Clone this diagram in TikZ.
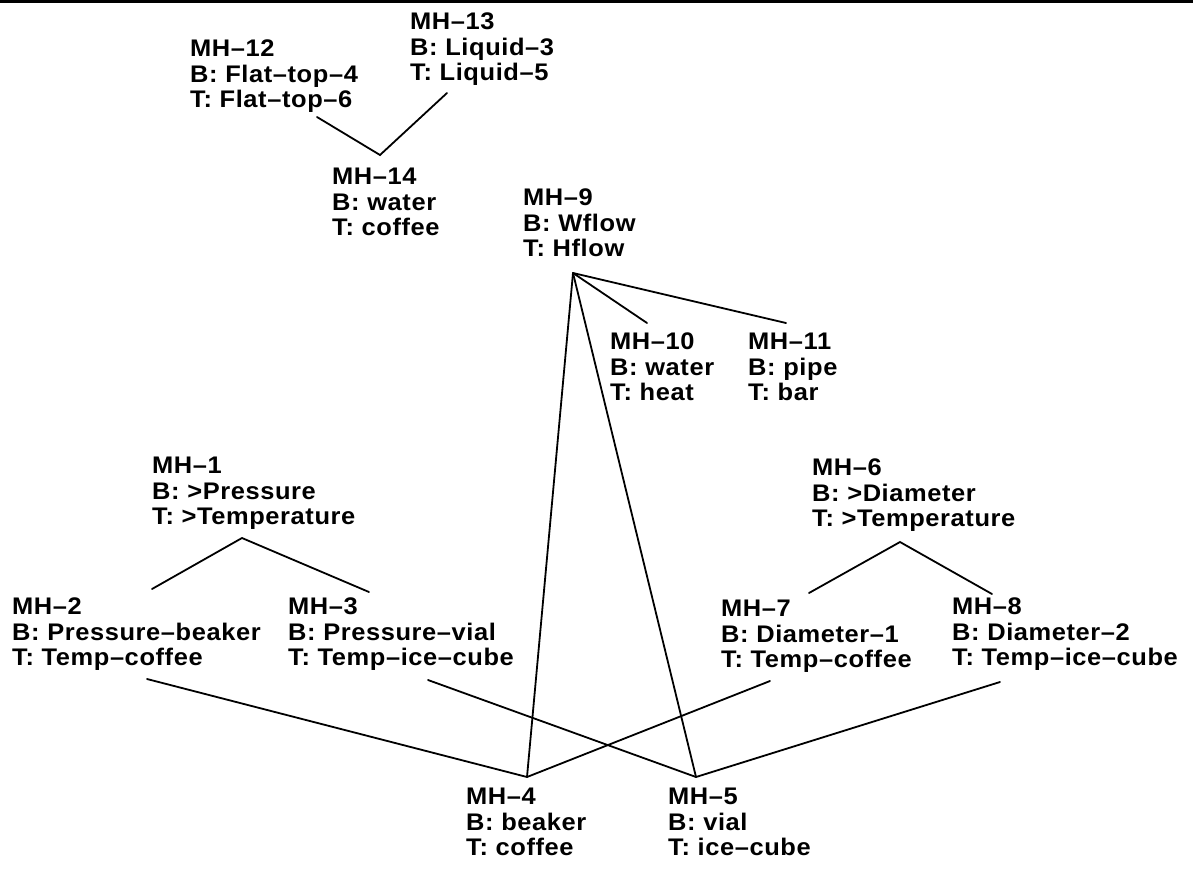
\documentclass[tikz,border=0pt]{standalone}
\usepackage{fontspec}
\newfontfamily\mhfont{Liberation Sans}[FakeStretch=1.06, LetterSpace=2.5]
\begin{document}
\begin{tikzpicture}[x=1pt,y=-1pt,
  mh/.style={anchor=north west, inner sep=0pt, align=left,
    font=\mhfont\bfseries\fontsize{24}{25.5}\selectfont},
  link/.style={line width=1.8pt, line cap=round}]
\fill[white] (0,0) rectangle (1193,868);
\useasboundingbox (0,0) rectangle (1193,868);
\draw[line width=3pt] (0,1.5) -- (1193,1.5);

\node[mh] (mh12) at (190,40)  {MH–12\\B: Flat–top–4\\T: Flat–top–6};
\node[mh] (mh13) at (410,13)  {MH–13\\B: Liquid–3\\T: Liquid–5};
\node[mh] (mh14) at (332,168) {MH–14\\B: water\\T: coffee};
\node[mh] (mh9)  at (523,189) {MH–9\\B: Wflow\\T: Hflow};
\node[mh] (mh10) at (610,333) {MH–10\\B: water\\T: heat};
\node[mh] (mh11) at (748,333) {MH–11\\B: pipe\\T: bar};
\node[mh] (mh1)  at (152,457) {MH–1\\B: >Pressure\\T: >Temperature};
\node[mh] (mh6)  at (812,459) {MH–6\\B: >Diameter\\T: >Temperature};
\node[mh] (mh2)  at (12,598)  {MH–2\\B: Pressure–beaker\\T: Temp–coffee};
\node[mh] (mh3)  at (288,598) {MH–3\\B: Pressure–vial\\T: Temp–ice–cube};
\node[mh] (mh7)  at (721,600) {MH–7\\B: Diameter–1\\T: Temp–coffee};
\node[mh] (mh8)  at (952,598) {MH–8\\B: Diameter–2\\T: Temp–ice–cube};
\node[mh] (mh4)  at (466,788) {MH–4\\B: beaker\\T: coffee};
\node[mh] (mh5)  at (668,788) {MH–5\\B: vial\\T: ice–cube};

\coordinate (c12) at (317,117);
\coordinate (c14) at (380,155);
\coordinate (c13) at (447,93);
\coordinate (c9)  at (573,273);
\coordinate (c10) at (647,323);
\coordinate (c11) at (786,323);
\coordinate (c4)  at (527,777);
\coordinate (c5)  at (696,777);
\coordinate (c1)  at (242,538);
\coordinate (c2t) at (152,589);
\coordinate (c3t) at (369,592);
\coordinate (c6)  at (900,542);
\coordinate (c7t) at (809,593);
\coordinate (c8t) at (992,594);
\coordinate (c2b) at (147,679);
\coordinate (c3b) at (428,680);
\coordinate (c7b) at (770,681);
\coordinate (c8b) at (1000,682);

\draw[link] (c12) -- (c14) -- (c13);
\draw[link] (c9) -- (c10);
\draw[link] (c9) -- (c11);
\draw[link] (c9) -- (c4);
\draw[link] (c9) -- (c5);
\draw[link] (c2t) -- (c1) -- (c3t);
\draw[link] (c7t) -- (c6) -- (c8t);
\draw[link] (c2b) -- (c4) -- (c7b);
\draw[link] (c3b) -- (c5) -- (c8b);
\end{tikzpicture}
\end{document}
